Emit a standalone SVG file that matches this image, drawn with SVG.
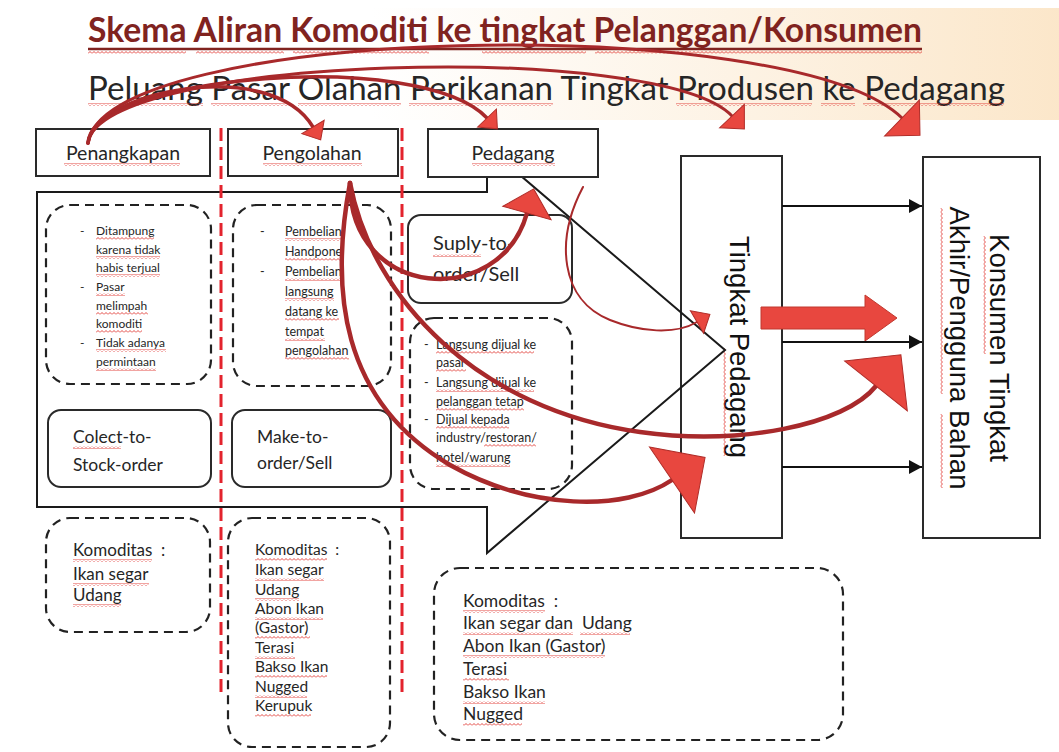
<svg xmlns="http://www.w3.org/2000/svg" width="1059" height="752" viewBox="0 0 1059 752">
<defs>
<style>
.bx{fill:#fff;stroke:#2a2a2a;stroke-width:2}
.rb{fill:#fff;stroke:#2a2a2a;stroke-width:2}
.db{fill:none;stroke:#222;stroke-width:2.2;stroke-dasharray:9 6}
.rd{fill:none;stroke:#e3232d;stroke-width:3;stroke-dasharray:13 6}
.t{font-family:Lato,"Liberation Sans",sans-serif;fill:#262626}
.v{font-family:"Liberation Sans",Arial,sans-serif;fill:#111;font-size:27.5px}
.cv{fill:none;stroke:#a8292b;stroke-linecap:round}
.hd{fill:#e8473f;stroke:#b02c28;stroke-width:1}
.sq{fill:url(#sq)}
.pre{white-space:pre}
</style>
<pattern id="sq" width="4" height="3" patternUnits="userSpaceOnUse"><path d="M0,2.5 L2,0.5 L4,2.5" fill="none" stroke="#e0342f" stroke-width="0.9"/></pattern>
<linearGradient id="bg" x1="0" y1="0" x2="1" y2="0"><stop offset="0.35" stop-color="#fbe7cb" stop-opacity="0"/><stop offset="1" stop-color="#fbe4c4" stop-opacity="0.9"/></linearGradient>
<marker id="hA" markerUnits="userSpaceOnUse" markerWidth="40" markerHeight="40" refX="0" refY="0" orient="auto" overflow="visible"><path d="M0,-13 L15,0 L0,13 Z" class="hd"/></marker>
<marker id="hB" markerUnits="userSpaceOnUse" markerWidth="40" markerHeight="40" refX="0" refY="0" orient="auto" overflow="visible"><path d="M0,-17 L18,0 L0,17 Z" class="hd"/></marker>
<marker id="hC" markerUnits="userSpaceOnUse" markerWidth="60" markerHeight="60" refX="0" refY="0" orient="auto" overflow="visible"><path d="M0,-25 L25,0 L0,25 Z" class="hd"/></marker>
<marker id="hD" markerUnits="userSpaceOnUse" markerWidth="90" markerHeight="90" refX="0" refY="0" orient="auto" overflow="visible"><path d="M0,-40 L40,0 L0,40 Z" class="hd"/></marker>
<marker id="blk" markerUnits="userSpaceOnUse" markerWidth="14" markerHeight="14" refX="13" refY="7" orient="auto"><path d="M0,0 L13,7 L0,14 Z" fill="#111"/></marker>
</defs>
<rect width="1059" height="752" fill="#fff"/>
<rect x="0" y="8" width="1059" height="112" fill="url(#bg)"/>

<g id="title">
<text class="t" x="88" y="42" font-size="34" font-weight="bold" style="fill:#80231f" textLength="834" lengthAdjust="spacingAndGlyphs">Skema Aliran Komoditi ke tingkat Pelanggan/Konsumen</text>
<line x1="88" y1="49" x2="922" y2="49" stroke="#80231f" stroke-width="2.5"/>
<rect class="sq" x="88" y="51" width="98" height="3"/><rect class="sq" x="196" y="51" width="88" height="3"/><rect class="sq" x="293" y="51" width="136" height="3"/><rect class="sq" x="482" y="51" width="104" height="3"/><rect class="sq" x="595" y="51" width="327" height="3"/>
</g>
<g id="subtitle">
<text class="t" x="88" y="100" font-size="33" textLength="917" lengthAdjust="spacingAndGlyphs">Peluang Pasar Olahan Perikanan Tingkat Produsen ke Pedagang</text>
<rect class="sq" x="88" y="103" width="115" height="3"/><rect class="sq" x="211" y="103" width="79" height="3"/><rect class="sq" x="298" y="103" width="103" height="3"/><rect class="sq" x="409" y="103" width="144" height="3"/><rect class="sq" x="676" y="103" width="136" height="3"/><rect class="sq" x="821" y="103" width="34" height="3"/><rect class="sq" x="863" y="103" width="141" height="3"/>
</g>

<g id="tingkat-pedagang">
<rect class="bx" x="681" y="156" width="101" height="382"/>
<text class="v" text-anchor="middle" transform="translate(730,347) rotate(90)">Tingkat Pedagang</text>
<rect class="sq" x="0" y="0" width="108" height="3" transform="translate(726,348) rotate(90)"/>
</g>
<g id="konsumen">
<rect class="bx" x="923" y="157" width="117" height="381"/>
<text class="v" text-anchor="middle" transform="translate(990,348) rotate(90)">Konsumen Tingkat</text>
<text class="v" text-anchor="middle" transform="translate(950,348) rotate(90)">Akhir/Pengguna Bahan</text>
<rect class="sq" x="0" y="0" width="118" height="3" transform="translate(986,236) rotate(90)"/>
<rect class="sq" x="0" y="0" width="186" height="3" transform="translate(943,208) rotate(90)"/>
<rect class="sq" x="0" y="0" width="74" height="3" transform="translate(943,414) rotate(90)"/>
</g>

<g id="callout">
<path d="M37,192 H487 V147 L725,350 L487,553 V507 H37 Z" fill="none" stroke="#1a1a1a" stroke-width="2"/>
</g>

<g id="penangkapan">
<rect class="bx" x="36" y="129" width="174" height="47"/>
<text class="t" x="123" y="160" font-size="19.5" text-anchor="middle">Penangkapan</text>
<rect class="sq" x="64" y="163" width="116" height="3"/>
</g>
<g id="pengolahan">
<rect class="bx" x="228" y="129" width="170" height="47"/>
<text class="t" x="312" y="160" font-size="19.5" text-anchor="middle">Pengolahan</text>
<rect class="sq" x="263" y="163" width="99" height="3"/>
</g>
<g id="pedagang">
<rect class="bx" x="428" y="129" width="170" height="48"/>
<text class="t" x="513" y="160" font-size="19.5" text-anchor="middle">Pedagang</text>
<rect class="sq" x="472" y="163" width="83" height="3"/>
</g>

<g id="ket-penangkapan">
<rect class="db" x="46" y="205" width="165" height="179" rx="24"/>
<g class="t" font-size="12">
<text x="80" y="235">-</text><text x="96" y="235">Ditampung</text>
<text x="96" y="254">karena tidak</text>
<text x="96" y="272">habis terjual</text>
<text x="80" y="291">-</text><text x="96" y="291">Pasar</text>
<text x="96" y="310">melimpah</text>
<text x="96" y="328">komoditi</text>
<text x="80" y="347">-</text><text x="96" y="347">Tidak adanya</text>
<text x="96" y="366">permintaan</text>
</g>
<rect class="sq" x="96" y="237" width="58" height="3"/><rect class="sq" x="96" y="256" width="64" height="3"/><rect class="sq" x="96" y="274" width="64" height="3"/><rect class="sq" x="96" y="293" width="29" height="3"/><rect class="sq" x="96" y="312" width="52" height="3"/><rect class="sq" x="96" y="330" width="46" height="3"/><rect class="sq" x="96" y="349" width="70" height="3"/><rect class="sq" x="96" y="368" width="60" height="3"/>
</g>
<g id="ket-pengolahan">
<rect class="db" x="233" y="205" width="158" height="181" rx="24"/>
<g class="t" font-size="12.5">
<text x="260" y="236">-</text><text x="285" y="236">Pembelian</text>
<text x="285" y="256">Handpone</text>
<text x="260" y="276">-</text><text x="285" y="276">Pembelian</text>
<text x="285" y="296">langsung</text>
<text x="285" y="316">datang ke</text>
<text x="285" y="336">tempat</text>
<text x="285" y="355">pengolahan</text>
</g>
<rect class="sq" x="285" y="238" width="57" height="3"/><rect class="sq" x="285" y="258" width="56" height="3"/><rect class="sq" x="285" y="278" width="57" height="3"/><rect class="sq" x="285" y="298" width="49" height="3"/><rect class="sq" x="285" y="318" width="54" height="3"/><rect class="sq" x="285" y="338" width="40" height="3"/><rect class="sq" x="285" y="357" width="64" height="3"/>
</g>
<g id="suply">
<rect class="rb" x="408" y="215" width="164" height="88" rx="13"/>
<text class="t" x="433" y="250" font-size="20">Suply-to-</text>
<text class="t" x="433" y="281" font-size="20">order/Sell</text>
<rect class="sq" x="433" y="254" width="48" height="3"/>
</g>
<g id="ket-pedagang">
<rect class="db" x="410" y="318" width="162" height="171" rx="24"/>
<g class="t" font-size="12.5">
<text x="424" y="349">-</text><text x="436" y="349">Langsung dijual ke</text>
<text x="436" y="367">pasar</text>
<text x="424" y="387">-</text><text x="436" y="387">Langsung dijual ke</text>
<text x="436" y="406">pelanggan tetap</text>
<text x="424" y="424">-</text><text x="436" y="424">Dijual kepada</text>
<text x="436" y="442">industry/restoran/</text>
<text x="436" y="462">hotel/warung</text>
</g>
<rect class="sq" x="436" y="351" width="98" height="3"/><rect class="sq" x="436" y="369" width="30" height="3"/><rect class="sq" x="436" y="389" width="98" height="3"/><rect class="sq" x="436" y="408" width="88" height="3"/><rect class="sq" x="436" y="426" width="73" height="3"/><rect class="sq" x="484" y="444" width="52" height="3"/><rect class="sq" x="436" y="464" width="74" height="3"/>
</g>
<g id="colect">
<rect class="rb" x="48" y="410" width="163" height="77" rx="13"/>
<text class="t" x="73" y="443" font-size="17.5">Colect-to-</text>
<text class="t" x="73" y="471" font-size="17.5">Stock-order</text>
<rect class="sq" x="73" y="446" width="48" height="3"/>
</g>
<g id="make">
<rect class="rb" x="232" y="410" width="159" height="77" rx="13"/>
<text class="t" x="257" y="443" font-size="17.5">Make-to-</text>
<text class="t" x="257" y="469" font-size="17.5">order/Sell</text>
</g>

<g id="komoditas-1">
<rect class="db" x="46" y="518" width="164" height="114" rx="24"/>
<text class="t pre" x="73" y="556" font-size="17">Komoditas  :</text>
<text class="t" x="73" y="580" font-size="17">Ikan segar</text>
<text class="t" x="73" y="601" font-size="17">Udang</text>
<rect class="sq" x="73" y="559" width="79" height="3"/><rect class="sq" x="73" y="583" width="76" height="3"/><rect class="sq" x="73" y="604" width="48" height="3"/>
</g>
<g id="komoditas-2">
<rect class="db" x="228" y="518" width="162" height="229" rx="24"/>
<g class="t" font-size="15.5">
<text class="pre" x="255" y="555">Komoditas  :</text>
<text x="255" y="575">Ikan segar</text>
<text x="255" y="595">Udang</text>
<text x="255" y="614">Abon Ikan</text>
<text x="255" y="633">(Gastor)</text>
<text x="255" y="653">Terasi</text>
<text x="255" y="672">Bakso Ikan</text>
<text x="255" y="692">Nugged</text>
<text x="255" y="711">Kerupuk</text>
</g>
<rect class="sq" x="255" y="558" width="72" height="3"/><rect class="sq" x="255" y="578" width="69" height="3"/><rect class="sq" x="255" y="598" width="44" height="3"/><rect class="sq" x="255" y="617" width="68" height="3"/><rect class="sq" x="255" y="636" width="55" height="3"/><rect class="sq" x="255" y="656" width="40" height="3"/><rect class="sq" x="255" y="675" width="72" height="3"/><rect class="sq" x="255" y="695" width="52" height="3"/><rect class="sq" x="255" y="714" width="56" height="3"/>
</g>
<g id="komoditas-3">
<rect class="db" x="434" y="568" width="409" height="172" rx="26"/>
<g class="t" font-size="17.5">
<text class="pre" x="463" y="607">Komoditas  :</text>
<text class="pre" x="463" y="629">Ikan segar dan  Udang</text>
<text x="463" y="652">Abon Ikan (Gastor)</text>
<text x="463" y="675">Terasi</text>
<text x="463" y="698">Bakso Ikan</text>
<text x="463" y="720">Nugged</text>
</g>
<rect class="sq" x="463" y="610" width="82" height="3"/><rect class="sq" x="463" y="632" width="110" height="3"/><rect class="sq" x="580" y="632" width="50" height="3"/><rect class="sq" x="463" y="655" width="142" height="3"/><rect class="sq" x="463" y="678" width="46" height="3"/><rect class="sq" x="463" y="701" width="82" height="3"/><rect class="sq" x="463" y="723" width="59" height="3"/>
</g>

<g id="dividers">
<line class="rd" x1="221" y1="128" x2="221" y2="698"/>
<line class="rd" x1="402" y1="128" x2="402" y2="698"/>
</g>

<g id="connectors">
<path class="cv" stroke-width="3.5" d="M88,143 C92,92 270,55 313,127" marker-end="url(#hA)"/>
<path class="cv" stroke-width="3.5" d="M88,143 C95,75 420,48 487,118" marker-end="url(#hA)"/>
<path class="cv" stroke-width="3" d="M88,143 C100,55 660,40 732,116" marker-end="url(#hB)"/>
<path class="cv" stroke-width="3" d="M88,143 C105,25 790,10 902,118" marker-end="url(#hC)"/>
<path class="cv" stroke-width="4.5" d="M350,183 C350,300 500,310 527,213" marker-end="url(#hC)"/>
<path class="cv" stroke-width="4.5" d="M350,183 C330,290 340,400 450,465 C530,510 625,512 672,480" marker-end="url(#hD)"/>
<path class="cv" stroke-width="4.5" d="M350,183 C372,300 480,410 640,432 C740,446 845,425 876,386" marker-end="url(#hD)"/>
<path class="cv" stroke-width="2" d="M583,187 C555,240 560,300 610,320 C640,332 675,335 697,322" marker-end="url(#hA)"/>
<path d="M761,307 H865 V295 L897,318 L865,341 V329 H761 Z" fill="#e8473f" stroke="#c0392f" stroke-width="1"/>
<line x1="782" y1="206" x2="922" y2="206" stroke="#111" stroke-width="2" marker-end="url(#blk)"/>
<line x1="782" y1="342" x2="922" y2="342" stroke="#111" stroke-width="2" marker-end="url(#blk)"/>
<line x1="782" y1="467" x2="922" y2="467" stroke="#111" stroke-width="2" marker-end="url(#blk)"/>
</g>
</svg>
